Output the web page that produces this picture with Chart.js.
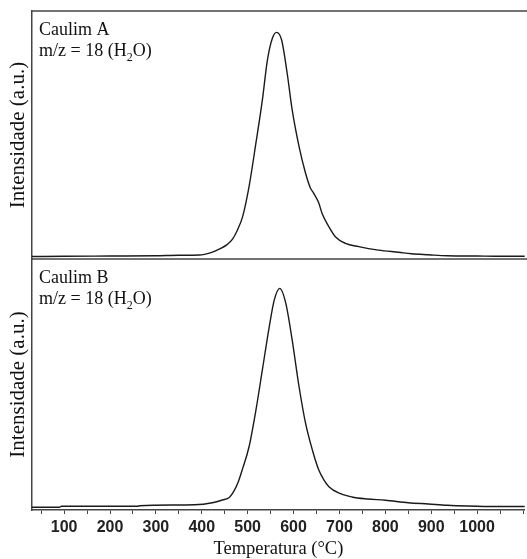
<!DOCTYPE html>
<html>
<head>
<meta charset="utf-8">
<script src="https://cdn.jsdelivr.net/npm/chart.js@4.4.1/dist/chart.umd.min.js"></script>
<style>
  html, body { margin: 0; padding: 0; background: #fff; }
</style>
</head>
<body>
<canvas id="js-chartjs-tpd" width="527" height="559"></canvas>
<script>
// Caulim A, m/z = 18
const tempA = [30, 100, 200, 300, 350, 395, 420, 438, 455, 467, 478, 489, 503, 518, 532, 543, 554, 563, 574, 586, 597, 612, 626, 637, 644, 655, 662, 677, 691, 713, 742, 785, 829, 857, 894, 935, 1000, 1039, 1104];
const intensA = [1.0, 1.1, 1.2, 1.3, 1.5, 1.6, 2.6, 4.0, 5.8, 8.0, 11.8, 17.1, 29.2, 46.8, 64.1, 80.2, 89.1, 91.4, 88.3, 75.0, 60.1, 45.3, 34.7, 28.5, 26.5, 22.6, 18.4, 13.0, 9.0, 6.3, 5.0, 3.6, 2.7, 2.1, 1.7, 1.3, 1.2, 1.1, 1.1];

// Caulim B, m/z = 18 (bottom panel)
const tempB = [30, 90, 94, 260, 265, 384, 423, 445, 460, 470, 480, 489, 503, 518, 532, 547, 558, 570, 583, 597, 612, 626, 641, 655, 666, 677, 698, 727, 760, 800, 850, 894, 935, 980, 1040, 1104];
const intensB = [1.1, 1.1, 1.5, 1.5, 1.7, 2.1, 2.9, 4.0, 5.0, 7.5, 11.5, 16.5, 25.2, 39.8, 55.8, 73.0, 83.7, 88.3, 82.4, 67.7, 49.1, 34.7, 23.9, 15.9, 12.0, 9.3, 6.8, 5.2, 4.4, 3.9, 2.9, 2.4, 1.9, 1.6, 1.4, 1.4];

// Axis text
const xTickLabels = [100, 200, 300, 400, 500, 600, 700, 800, 900, 1000];
const panelNames = ['Caulim A', 'Caulim B'];

const frameColor = '#444';
const serif = '"Liberation Serif", "Times New Roman", serif';

// Draws the panel frame lines and the panel captions
const panelDecor = {
  id: 'panelDecor',
  afterDraw(chart) {
    const ctx = chart.ctx;
    const area = chart.chartArea;
    const panels = [chart.scales.yA, chart.scales.yB];

    ctx.save();
    ctx.strokeStyle = frameColor;
    ctx.lineWidth = 1.5;
    panels.forEach(s => {
      ctx.beginPath();
      ctx.moveTo(area.left, s.top);
      ctx.lineTo(chart.width, s.top);
      ctx.stroke();
    });

    ctx.fillStyle = '#111';
    ctx.textBaseline = 'alphabetic';
    panels.forEach((s, i) => {
      let x = area.left + 7;
      ctx.font = '18px ' + serif;
      ctx.fillText(panelNames[i], x, s.top + 23.5);
      let t = 'm/z = 18 (H';
      ctx.fillText(t, x, s.top + 45);
      x += ctx.measureText(t).width;
      ctx.font = '12px ' + serif;
      ctx.fillText('2', x, s.top + 50);
      x += ctx.measureText('2').width;
      ctx.font = '18px ' + serif;
      ctx.fillText('O)', x, s.top + 45);
    });
    ctx.restore();
  }
};

function yAxis(weight) {
  return {
    type: 'linear',
    position: 'left',
    stack: 'tpd',
    stackWeight: weight,
    min: 0,
    max: 100,
    ticks: { display: false },
    grid: { display: false },
    border: { display: true, color: frameColor, width: 1.5 },
    title: {
      display: true,
      text: 'Intensidade (a.u.)',
      color: '#111',
      font: { family: serif, size: 21, lineHeight: 1 },
      padding: { top: 8, bottom: 0 }
    },
    afterFit: s => { s.width = 32; }
  };
}

let chartCon = document.getElementById('js-chartjs-tpd');

let chartData = {
  datasets: [
    {
      label: 'Caulim A',
      yAxisID: 'yA',
      data: tempA.map((t, i) => ({ x: t, y: intensA[i] })),
      borderColor: '#1a1a1a',
      borderWidth: 1.4,
      pointRadius: 0,
      cubicInterpolationMode: 'monotone'
    },
    {
      label: 'Caulim B',
      yAxisID: 'yB',
      data: tempB.map((t, i) => ({ x: t, y: intensB[i] })),
      borderColor: '#1a1a1a',
      borderWidth: 1.4,
      pointRadius: 0,
      cubicInterpolationMode: 'monotone'
    }
  ]
};

let chartOptions = {
  responsive: false,
  animation: false,
  layout: { padding: { top: 11, left: 0, right: -3, bottom: 0 } },
  plugins: {
    legend: { display: false },
    tooltip: { enabled: false }
  },
  scales: {
    x: {
      type: 'linear',
      min: 30,
      max: 1104,
      border: { display: true, color: frameColor, width: 1.5 },
      grid: { drawOnChartArea: false, tickLength: 4, tickColor: frameColor, tickWidth: 1 },
      ticks: {
        stepSize: 50,
        includeBounds: false,
        autoSkip: false,
        maxRotation: 0,
        padding: 4,
        color: '#222',
        font: { family: '"Liberation Sans", Arial, sans-serif', size: 16, weight: 'bold' },
        callback: v => xTickLabels.includes(v) ? String(v) : ''
      },
      title: {
        display: true,
        text: 'Temperatura (°C)',
        color: '#111',
        font: { family: serif, size: 18.5, lineHeight: 1 },
        padding: { top: 0, bottom: 1 }
      },
      afterFit: s => { s.height = 49; }
    },
    yB: yAxis(251),
    yA: yAxis(248)
  }
};

new Chart(chartCon, { type: 'line', data: chartData, options: chartOptions, plugins: [panelDecor] });
</script>
</body>
</html>
